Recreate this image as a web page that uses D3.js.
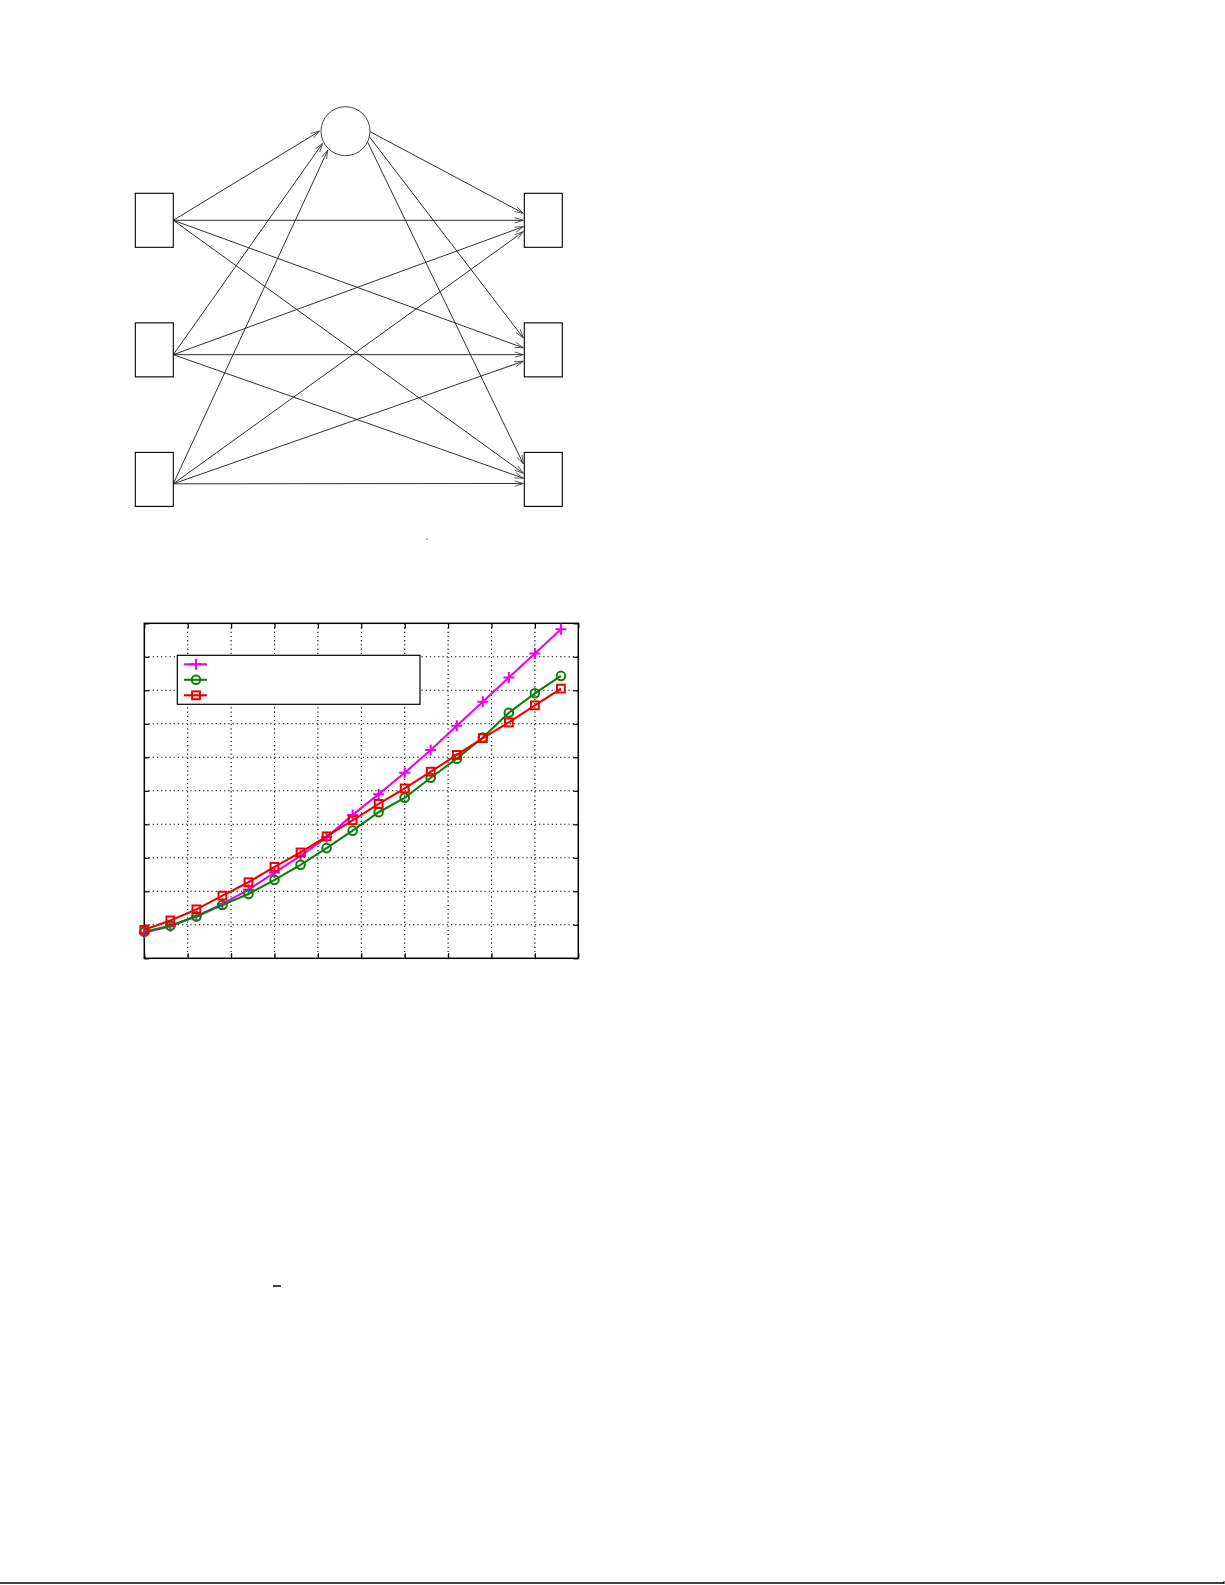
<!DOCTYPE html>
<html>
<head>
<meta charset="utf-8">
<script src="https://cdn.jsdelivr.net/npm/d3@7"></script>
<style>
  body { margin: 0; background: #fff; }
  svg { display: block; }
</style>
</head>
<body>
<svg id="page"></svg>
<script>
// network: three inputs, one hidden unit, three outputs
const inputNodes = ['in1', 'in2', 'in3'];
const hiddenNodes = ['h'];
const outputNodes = ['out1', 'out2', 'out3'];
const links = [
  ['in1', 'h'], ['in2', 'h'], ['in3', 'h'],
  ['in1', 'out1'], ['in1', 'out2'], ['in1', 'out3'],
  ['in2', 'out1'], ['in2', 'out2'], ['in2', 'out3'],
  ['in3', 'out1'], ['in3', 'out2'], ['in3', 'out3'],
  ['h', 'out1'], ['h', 'out2'], ['h', 'out3']
];

// line chart (no tick labels in the source, units are arbitrary)
const xValues = [0, 3, 6, 9, 12, 15, 18, 21, 24, 27, 30, 33, 36, 39, 42, 45, 48];
const xTicks = [0, 5, 10, 15, 20, 25, 30, 35, 40, 45, 50];
const yTicks = [0, 1, 2, 3, 4, 5, 6, 7, 8, 9, 10];
const seriesNames = ['plus', 'circle', 'square'];
const plusValues   = [0.76, 0.96, 1.26, 1.62, 2.05, 2.56, 3.06, 3.61, 4.28, 4.90, 5.54, 6.22, 6.94, 7.66, 8.38, 9.10, 9.82];
const circleValues = [0.79, 0.97, 1.25, 1.59, 1.92, 2.34, 2.79, 3.29, 3.81, 4.36, 4.79, 5.39, 5.96, 6.59, 7.33, 7.91, 8.43];
const squareValues = [0.85, 1.13, 1.46, 1.87, 2.27, 2.73, 3.16, 3.64, 4.12, 4.61, 5.07, 5.57, 6.07, 6.57, 7.04, 7.55, 8.05];

const W = 1225, H = 1585;
const svg = d3.select('#page').attr('width', W).attr('height', H);
svg.append('rect').attr('width', W).attr('height', H).attr('fill', '#fff');

// ---------- network diagram ----------
const net = svg.append('g');
const colX = d3.scaleOrdinal().domain(['input', 'hidden', 'output']).range([154.3, 345.5, 543.3]);
const rowY = d3.scalePoint().domain([0, 1, 2]).range([220.3, 479.4]);
const hiddenY = 131.2, hiddenR = 24.5;
const boxW = 38, boxH = 54;
const srcShift = [0, 4.8, 4.4];
// where each incoming arrow meets an output box: [hidden, in1, in2, in3]
const portShift = [[-7, 0, 6.4, 11.4], [-12, -2, 4.8, 11.4], [-15.5, -6.2, -1.2, 4.1]];
const hiddenInAngle = [180, 152, 133];
const hiddenOutAngle = [1, 13, 26];

function nodeInfo(id) {
  let i = inputNodes.indexOf(id);
  if (i >= 0) return { kind: 'input', idx: i };
  i = outputNodes.indexOf(id);
  if (i >= 0) return { kind: 'output', idx: i };
  return { kind: 'hidden', idx: hiddenNodes.indexOf(id) };
}

function onCircle(deg, extra) {
  const a = deg * Math.PI / 180, r = hiddenR + (extra || 0);
  return [colX('hidden') + r * Math.cos(a), hiddenY + r * Math.sin(a)];
}

const arrows = links.map(([s, t]) => {
  const a = nodeInfo(s), b = nodeInfo(t);
  let p0, p1;
  if (a.kind === 'input') {
    p0 = [colX('input') + boxW / 2, rowY(a.idx) + srcShift[a.idx]];
  } else {
    p0 = onCircle(hiddenOutAngle[b.idx]);
  }
  if (b.kind === 'hidden') {
    p1 = onCircle(hiddenInAngle[a.idx], 1.5);
  } else {
    const port = a.kind === 'hidden' ? 0 : a.idx + 1;
    p1 = [colX('output') - boxW / 2 - 1, rowY(b.idx) + portShift[b.idx][port]];
  }
  return { p0, p1 };
});

net.selectAll('line.edge')
  .data(arrows)
  .enter()
  .append('line')
  .attr('class', 'edge')
  .attr('x1', d => d.p0[0]).attr('y1', d => d.p0[1])
  .attr('x2', d => d.p1[0]).attr('y2', d => d.p1[1])
  .attr('stroke', '#1a1a1a')
  .attr('stroke-width', 0.9);

// open arrow heads
net.selectAll('path.head')
  .data(arrows)
  .enter()
  .append('path')
  .attr('class', 'head')
  .attr('d', d => {
    const ang = Math.atan2(d.p1[1] - d.p0[1], d.p1[0] - d.p0[0]);
    const len = 9, spread = 0.3;
    const l = [d.p1[0] - len * Math.cos(ang - spread), d.p1[1] - len * Math.sin(ang - spread)];
    const r = [d.p1[0] - len * Math.cos(ang + spread), d.p1[1] - len * Math.sin(ang + spread)];
    return 'M' + l + 'L' + d.p1 + 'L' + r;
  })
  .attr('fill', 'none')
  .attr('stroke', '#444')
  .attr('stroke-width', 0.9);

net.selectAll('rect.inbox')
  .data(inputNodes)
  .enter()
  .append('rect')
  .attr('x', colX('input') - boxW / 2)
  .attr('y', (d, i) => rowY(i) - boxH / 2)
  .attr('width', boxW).attr('height', boxH)
  .attr('fill', '#fff').attr('stroke', '#000').attr('stroke-width', 1.1);

net.selectAll('rect.outbox')
  .data(outputNodes)
  .enter()
  .append('rect')
  .attr('x', colX('output') - boxW / 2)
  .attr('y', (d, i) => rowY(i) - boxH / 2)
  .attr('width', boxW).attr('height', boxH)
  .attr('fill', '#fff').attr('stroke', '#000').attr('stroke-width', 1.1);

net.selectAll('circle.hid')
  .data(hiddenNodes)
  .enter()
  .append('circle')
  .attr('cx', colX('hidden')).attr('cy', hiddenY).attr('r', hiddenR)
  .attr('fill', 'none').attr('stroke', '#444').attr('stroke-width', 1);

// stray dot under the diagram
svg.append('rect').attr('x', 426.5).attr('y', 538.5).attr('width', 1.2).attr('height', 1.2).attr('fill', '#333');

// ---------- line chart ----------
const plot = { left: 144.3, right: 578.3, top: 623.3, bottom: 958.3 };
const x = d3.scaleLinear().domain([0, 50]).range([plot.left, plot.right]);
const y = d3.scaleLinear().domain([0, 10]).range([plot.bottom, plot.top]);
const chart = svg.append('g');

// dotted grid
chart.selectAll('line.vgrid')
  .data(xTicks.slice(1, -1))
  .enter().append('line')
  .attr('x1', d => x(d)).attr('x2', d => x(d))
  .attr('y1', plot.top).attr('y2', plot.bottom)
  .attr('stroke', '#000').attr('stroke-width', 1.1).attr('stroke-dasharray', '1.2,3');
chart.selectAll('line.hgrid')
  .data(yTicks.slice(1, -1))
  .enter().append('line')
  .attr('y1', d => y(d)).attr('y2', d => y(d))
  .attr('x1', plot.left).attr('x2', plot.right)
  .attr('stroke', '#000').attr('stroke-width', 1.1).attr('stroke-dasharray', '1.2,3');

// inward ticks on all four sides, no labels
const tl = 5;
const axB = d3.axisBottom(x).tickValues(xTicks).tickSize(-tl).tickFormat('');
const axT = d3.axisTop(x).tickValues(xTicks).tickSize(-tl).tickFormat('');
const axL = d3.axisLeft(y).tickValues(yTicks).tickSize(-tl).tickFormat('');
const axR = d3.axisRight(y).tickValues(yTicks).tickSize(-tl).tickFormat('');
chart.append('g').attr('transform', `translate(0,${plot.bottom})`).call(axB);
chart.append('g').attr('transform', `translate(0,${plot.top})`).call(axT);
chart.append('g').attr('transform', `translate(${plot.left},0)`).call(axL);
chart.append('g').attr('transform', `translate(${plot.right},0)`).call(axR);
chart.selectAll('.domain').remove();
chart.selectAll('.tick line').attr('stroke', '#000').attr('stroke-width', 1.2);

chart.append('rect')
  .attr('x', plot.left).attr('y', plot.top)
  .attr('width', plot.right - plot.left).attr('height', plot.bottom - plot.top)
  .attr('fill', 'none').attr('stroke', '#000').attr('stroke-width', 1.5);

const colors = { plus: '#f000f0', circle: '#0a800a', square: '#ee0000' };
const valuesOf = { plus: plusValues, circle: circleValues, square: squareValues };

function drawMarker(g, kind, color) {
  if (kind === 'plus') {
    g.append('path').attr('d', 'M-5.5,0H5.5M0,-5.5V5.5')
      .attr('stroke', color).attr('stroke-width', 2).attr('fill', 'none');
  } else if (kind === 'circle') {
    g.append('circle').attr('r', 4.3)
      .attr('stroke', color).attr('stroke-width', 2).attr('fill', 'none');
  } else {
    g.append('rect').attr('x', -3.9).attr('y', -3.9).attr('width', 7.8).attr('height', 7.8)
      .attr('stroke', color).attr('stroke-width', 2).attr('fill', 'none');
  }
}

const line = d3.line().x((d, i) => x(xValues[i])).y(d => y(d));
seriesNames.forEach(name => {
  const vals = valuesOf[name];
  chart.append('path').datum(vals)
    .attr('d', line)
    .attr('fill', 'none').attr('stroke', colors[name]).attr('stroke-width', 2.1);
  chart.selectAll(null).data(vals).enter().append('g')
    .attr('transform', (d, i) => `translate(${x(xValues[i])},${y(d)})`)
    .each(function () { drawMarker(d3.select(this), name, colors[name]); });
});

// legend (entries carry no text in the source)
const legend = chart.append('g');
legend.append('rect')
  .attr('x', 177.3).attr('y', 655.3).attr('width', 242.7).attr('height', 49)
  .attr('fill', '#fff').attr('stroke', '#000').attr('stroke-width', 1.2);
const legY = d3.scalePoint().domain(seriesNames).range([664.3, 695.3]);
seriesNames.forEach(name => {
  legend.append('line')
    .attr('x1', 184).attr('x2', 207).attr('y1', legY(name)).attr('y2', legY(name))
    .attr('stroke', colors[name]).attr('stroke-width', 2.1);
  const g = legend.append('g').attr('transform', `translate(196,${legY(name)})`);
  drawMarker(g, name, colors[name]);
});

// small dash lower on the page
svg.append('line').attr('x1', 273).attr('x2', 281).attr('y1', 1286).attr('y2', 1286)
  .attr('stroke', '#000').attr('stroke-width', 1.5);

// rule across the page bottom
svg.append('line').attr('x1', 0).attr('x2', 1224).attr('y1', 1583).attr('y2', 1583)
  .attr('stroke', '#000').attr('stroke-width', 1.5);
svg.append('line').attr('x1', 1224).attr('x2', 1224).attr('y1', 1581).attr('y2', 1584)
  .attr('stroke', '#000').attr('stroke-width', 1);
</script>
</body>
</html>
